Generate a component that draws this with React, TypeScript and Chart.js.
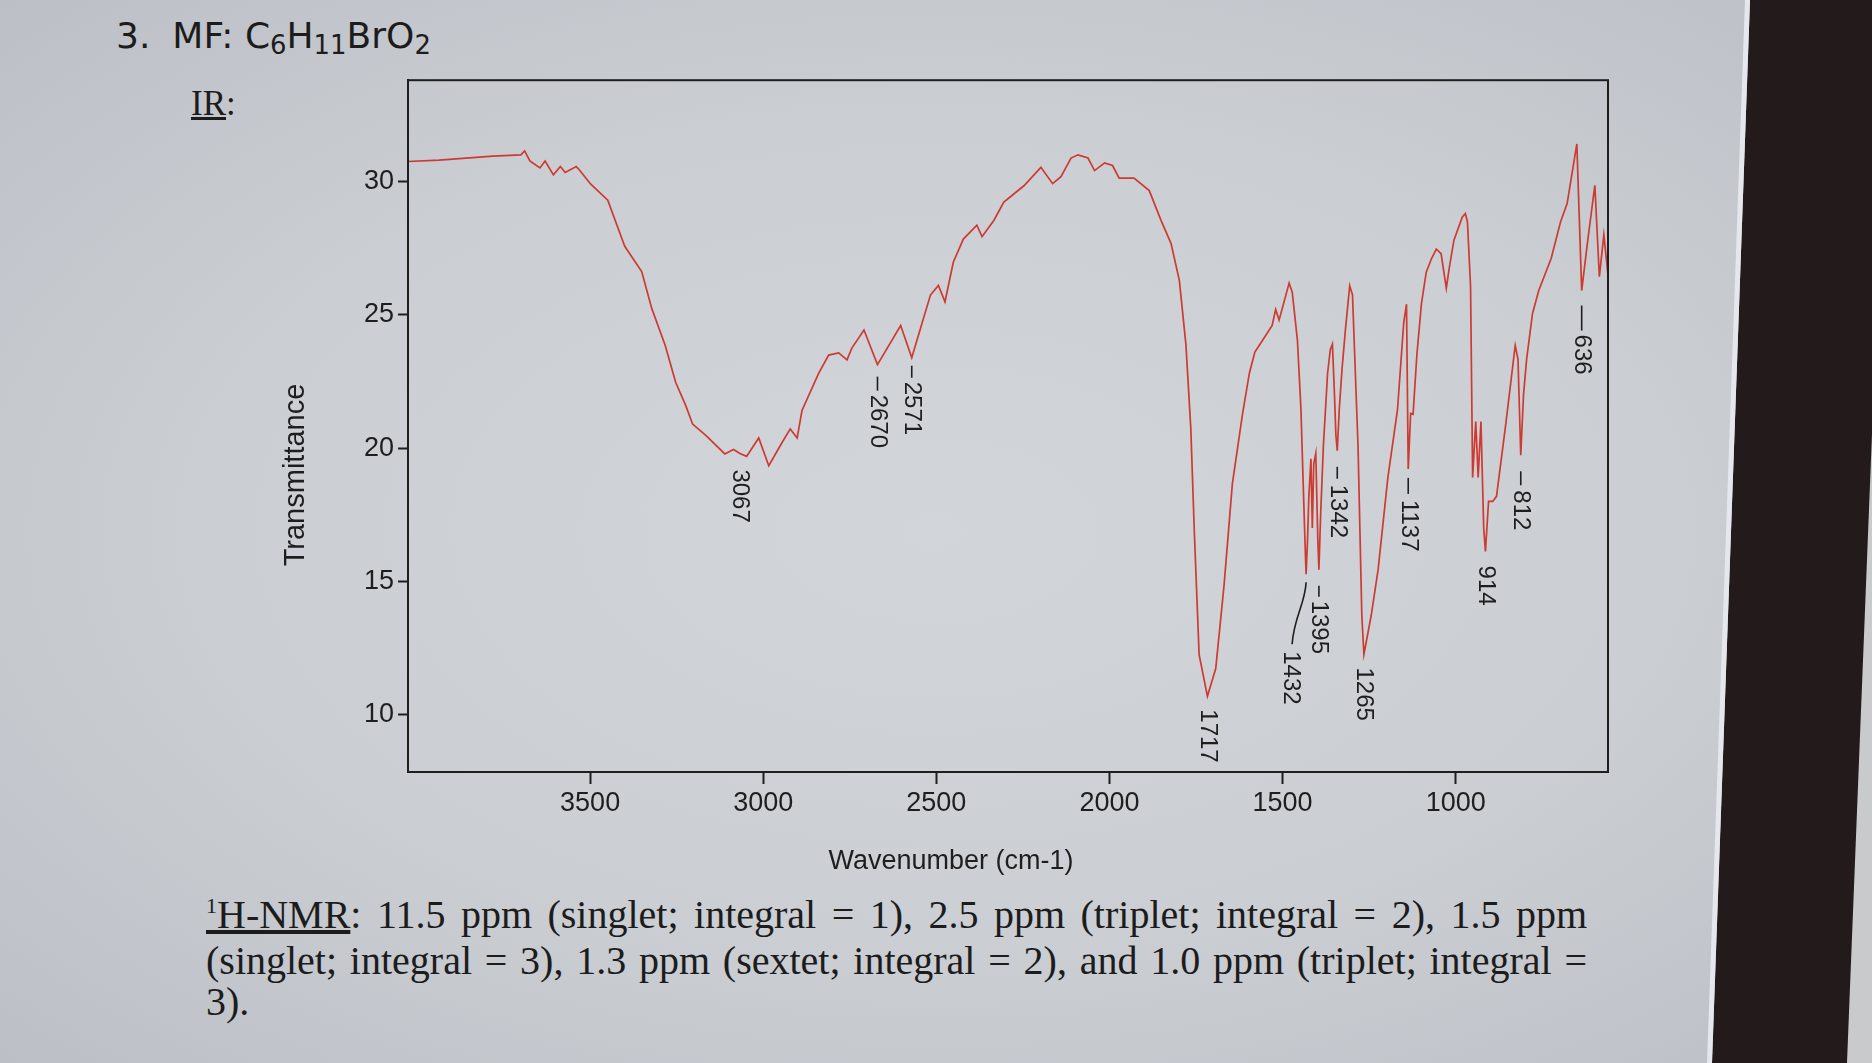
import React, { useEffect, useRef } from "react";
import { Chart, registerables } from "chart.js";

Chart.register(...registerables);

// ---------- data ----------
const wavenumbers = [
  4026, 3936, 3781, 3700, 3689, 3674, 3645, 3630, 3606, 3586, 3572, 3540, 3532,
  3498, 3449, 3400, 3351, 3322, 3283, 3253, 3224, 3204, 3165, 3111, 3086, 3067,
  3048, 3013, 2984, 2946, 2922, 2902, 2888, 2840, 2811, 2782, 2758, 2744, 2709,
  2670, 2603, 2571, 2545, 2517, 2494, 2475, 2451, 2422, 2383, 2368, 2334, 2305,
  2247, 2198, 2164, 2140, 2111, 2091, 2062, 2043, 2014, 1991, 1972, 1929, 1885,
  1851, 1822, 1798, 1779, 1765, 1755, 1741, 1717, 1693, 1669, 1645, 1616, 1596,
  1580, 1560, 1530, 1520, 1510, 1481, 1472, 1457, 1447, 1440, 1434, 1432, 1428,
  1424, 1418, 1414, 1410, 1404, 1398, 1395, 1390, 1382, 1370, 1362, 1356, 1350,
  1346, 1342, 1336, 1328, 1318, 1306, 1298, 1282, 1271, 1265, 1244, 1224, 1196,
  1168, 1150, 1142, 1137, 1130, 1123, 1112, 1099, 1085, 1070, 1056, 1042, 1034,
  1027, 1018, 1005, 981, 972, 966, 957, 951, 942, 935, 927, 919, 914, 905, 893,
  882, 855, 828, 820, 812, 804, 795, 778, 760, 724, 697, 678, 650, 636, 620, 598,
  585, 572, 560,
];

const transmittance = [
  30.75, 30.8, 30.95, 31.0, 31.15, 30.77, 30.51, 30.77, 30.25, 30.56, 30.34, 30.56, 30.45,
  29.9, 29.3, 27.57, 26.62, 25.24, 23.85, 22.47, 21.6, 20.9, 20.47, 19.78, 19.95, 19.8,
  19.69, 20.38, 19.34, 20.2, 20.72, 20.38, 21.41, 22.8, 23.49, 23.57, 23.31, 23.75, 24.43,
  23.13, 24.6, 23.39, 24.52, 25.74, 26.1, 25.49, 26.97, 27.84, 28.36, 27.93, 28.54, 29.23,
  29.84, 30.53, 29.92, 30.18, 30.88, 31.0, 30.88, 30.41, 30.7, 30.6, 30.13, 30.13, 29.66,
  28.54, 27.67, 26.28, 23.86, 20.74, 16.93, 12.25, 10.69, 11.73, 14.85, 18.66, 21.25, 22.8,
  23.6, 24.0, 24.6, 25.2, 24.8, 26.19, 25.85, 24.04, 21.5, 18.5, 16.0, 15.27, 16.5,
  18.2, 19.6, 17.0, 19.4, 19.8, 16.5, 15.44, 17.5, 20.1, 22.8, 23.7, 23.9, 22.0,
  20.5, 19.9, 21.5, 23.0, 24.5, 26.09, 25.75, 20.08, 13.72, 12.26, 13.72, 15.44, 18.87,
  21.44, 24.71, 25.4, 19.22, 21.3, 21.27, 23.5, 25.4, 26.6, 27.1, 27.46, 27.29, 26.6,
  26.0, 26.8, 27.8, 28.66, 28.8, 28.49, 26.08, 18.9, 21.0, 18.9, 21.0, 17.0, 16.12, 18.0, 18.0,
  18.19, 20.93, 23.85, 23.34, 19.73, 22.0, 23.34, 25.05, 25.91, 27.12, 28.49, 29.17, 31.41, 25.91, 27.63, 29.86,
  26.43, 28.0, 26.5,
];

const xTickValues = [3500, 3000, 2500, 2000, 1500, 1000];
const yTickValues = [10, 15, 20, 25, 30];

const peakWavenumbers = [3067, 2670, 2571, 1717, 1432, 1395, 1342, 1265, 1137, 914, 812, 636];
const peakLabels = ["3067", "2670", "2571", "1717", "1432", "1395", "1342", "1265", "1137", "914", "812", "636"];

// label layout (styling only): dash start/end and text start below the peak
const peakLabelLayout = [
  { dash: null, text: 16 },
  { dash: [12, 26], text: 30 },
  { dash: [8, 20], text: 24 },
  { dash: null, text: 13 },
  { leader: true, dx: -15, text: 77 },
  { dash: [16, 27], text: 31 },
  { dash: [16, 28], text: 34 },
  { dash: null, text: 13 },
  { dash: [9, 25], text: 31 },
  { dash: null, text: 14 },
  { dash: [16, 30], text: 35 },
  { dash: [15, 40], text: 44 },
];

const X_TITLE = "Wavenumber (cm-1)";
const Y_TITLE = "Transmittance";

const CANVAS_LEFT = 200;
const CANVAS_TOP = 60;
const CANVAS_W = 1430;
const CANVAS_H = 830;

const INK = "#1e1e1e";
const LINE = "rgb(204, 58, 48)";

const overlayPlugin = {
  id: "irOverlay",
  afterDraw(chart: any) {
    const ctx = chart.ctx as CanvasRenderingContext2D;
    const { left, top, right, bottom } = chart.chartArea;
    const xs = chart.scales.x;
    const ys = chart.scales.y;
    ctx.save();
    // frame
    ctx.strokeStyle = INK;
    ctx.lineWidth = 2;
    ctx.strokeRect(left, top, right - left, bottom - top);

    // axis titles
    ctx.fillStyle = INK;
    ctx.font = '27px "Liberation Sans", Arial, sans-serif';
    ctx.textAlign = "center";
    ctx.textBaseline = "middle";
    ctx.fillText(X_TITLE, 951 - CANVAS_LEFT, 862 - CANVAS_TOP);
    ctx.save();
    ctx.translate(296 - CANVAS_LEFT, 475 - CANVAS_TOP);
    ctx.rotate(-Math.PI / 2);
    ctx.font = '29px "Liberation Sans", Arial, sans-serif';
    ctx.fillText(Y_TITLE, 0, 0);
    ctx.restore();

    // peak labels
    ctx.font = '24px "Liberation Sans", Arial, sans-serif';
    ctx.strokeStyle = INK;
    ctx.lineWidth = 1.6;
    peakWavenumbers.forEach((wn, i) => {
      const idx = wavenumbers.indexOf(wn);
      const val = transmittance[idx];
      const px = xs.getPixelForValue(wn);
      const py = ys.getPixelForValue(val);
      const lay: any = peakLabelLayout[i];
      const dx = lay.dx || 0;
      if (lay.dash) {
        ctx.beginPath();
        ctx.moveTo(px, py + lay.dash[0]);
        ctx.lineTo(px, py + lay.dash[1]);
        ctx.stroke();
      }
      if (lay.leader) {
        ctx.beginPath();
        ctx.moveTo(px, py + 8);
        ctx.bezierCurveTo(px - 1, py + 30, px - 12, py + 42, px - 14, py + 70);
        ctx.stroke();
      }
      ctx.save();
      ctx.translate(px + dx, py + lay.text);
      ctx.rotate(Math.PI / 2);
      ctx.textAlign = "left";
      ctx.textBaseline = "middle";
      ctx.fillText(peakLabels[i], 0, 0);
      ctx.restore();
    });
    ctx.restore();
  },
};

function IRChart() {
  const ref = useRef<HTMLCanvasElement | null>(null);
  useEffect(() => {
    if (!ref.current) return;
    const points = wavenumbers.map((w, i) => ({ x: w, y: transmittance[i] }));
    const tickFont = { family: '"Liberation Sans", Arial, sans-serif', size: 27 };
    const chart = new Chart(ref.current, {
      type: "line",
      data: {
        datasets: [
          {
            data: points,
            borderColor: LINE,
            borderWidth: 1.7,
            pointRadius: 0,
            tension: 0,
            fill: false,
          },
        ],
      },
      options: {
        animation: false,
        responsive: false,
        devicePixelRatio: 1,
        layout: { padding: { left: 0, top: 20, right: 22, bottom: 0 } },
        plugins: { legend: { display: false }, tooltip: { enabled: false } },
        scales: {
          x: {
            type: "linear",
            reverse: true,
            min: 560,
            max: 4026,
            afterBuildTicks: (s: any) => {
              s.ticks = xTickValues.map((v) => ({ value: v }));
            },
            afterFit: (s: any) => {
              s.height = 118;
            },
            ticks: {
              callback: (v: any) => String(v),
              font: tickFont,
              color: INK,
              padding: 3,
              maxRotation: 0,
              autoSkip: false,
            },
            grid: {
              display: true,
              drawOnChartArea: false,
              drawTicks: true,
              tickLength: 12,
              tickColor: INK,
              tickWidth: 2,
            },
            border: { display: true, color: INK, width: 2 },
          },
          y: {
            type: "linear",
            min: 7.85,
            max: 33.8,
            afterBuildTicks: (s: any) => {
              s.ticks = yTickValues.map((v) => ({ value: v }));
            },
            afterFit: (s: any) => {
              s.width = 208;
            },
            ticks: {
              callback: (v: any) => String(v),
              font: tickFont,
              color: INK,
              padding: 4,
            },
            grid: {
              display: true,
              drawOnChartArea: false,
              drawTicks: true,
              tickLength: 10,
              tickColor: INK,
              tickWidth: 2,
            },
            border: { display: true, color: INK, width: 2 },
          },
        },
      },
      plugins: [overlayPlugin],
    } as any);
    return () => chart.destroy();
  }, []);
  return (
    <canvas
      ref={ref}
      width={CANVAS_W}
      height={CANVAS_H}
      style={{
        position: "absolute",
        left: CANVAS_LEFT,
        top: CANVAS_TOP,
        width: CANVAS_W,
        height: CANVAS_H,
      }}
    />
  );
}

const serif = '"Liberation Serif", "Times New Roman", serif';
const sans = '"DejaVu Sans", Verdana, sans-serif';

export default function App() {
  const sub: React.CSSProperties = { fontSize: "0.72em", position: "relative", top: "0.24em" };
  const nmrLine: React.CSSProperties = {
    position: "absolute",
    left: 206,
    width: 1381,
    fontFamily: serif,
    fontSize: 40,
    lineHeight: "42px",
    height: 42,
    color: "#1c1c1c",
    textAlign: "justify",
    textAlignLast: "justify" as any,
    whiteSpace: "nowrap",
  };
  return (
    <div
      style={{
        position: "fixed",
        left: 0,
        top: 0,
        width: 1872,
        height: 1063,
        overflow: "hidden",
        background: "#231b1b",
      }}
    >
      <div
        style={{
          position: "absolute",
          inset: 0,
          background:
            "radial-gradient(ellipse at 50% 50%, #d2d5da 0%, #cbced3 55%, #bcbfc5 100%)",
          clipPath: "polygon(0 0, 1750px 0, 1712px 1063px, 0 1063px)",
        }}
      />
      <div
        style={{
          position: "absolute",
          inset: 0,
          background: "#e4e7eb",
          clipPath: "polygon(1745px 0, 1750px 0, 1712px 1063px, 1707px 1063px)",
        }}
      />
      <div
        style={{
          position: "absolute",
          inset: 0,
          background: "#c9cacc",
          clipPath: "polygon(1872px 434px, 1872px 1063px, 1847px 1063px)",
        }}
      />
      <div
        style={{
          position: "absolute",
          left: 116,
          top: 18,
          fontFamily: sans,
          fontSize: 36,
          lineHeight: 1,
          color: "#1c1c1c",
          whiteSpace: "nowrap",
        }}
      >
        3.<span style={{ marginLeft: 22 }}>MF: C</span>
        <span style={sub}>6</span>H<span style={sub}>11</span>BrO<span style={sub}>2</span>
      </div>
      <div
        style={{
          position: "absolute",
          left: 191,
          top: 86,
          fontFamily: serif,
          fontSize: 35,
          lineHeight: 1,
          color: "#1c1c1c",
        }}
      >
        <span style={{ textDecoration: "underline" }}>IR</span>:
      </div>
      <IRChart />
      <div style={{ ...nmrLine, top: 894 }}>
        <span style={{ textDecoration: "underline" }}>
          <span style={{ fontSize: 22, position: "relative", top: -15 }}>1</span>H-NMR
        </span>
        : 11.5 ppm (singlet; integral = 1), 2.5 ppm (triplet; integral = 2), 1.5 ppm
      </div>
      <div style={{ ...nmrLine, top: 940 }}>
        (singlet; integral = 3), 1.3 ppm (sextet; integral = 2), and 1.0 ppm (triplet; integral =
      </div>
      <div style={{ ...nmrLine, top: 981, textAlignLast: "left" as any, textAlign: "left" }}>3).</div>
    </div>
  );
}
